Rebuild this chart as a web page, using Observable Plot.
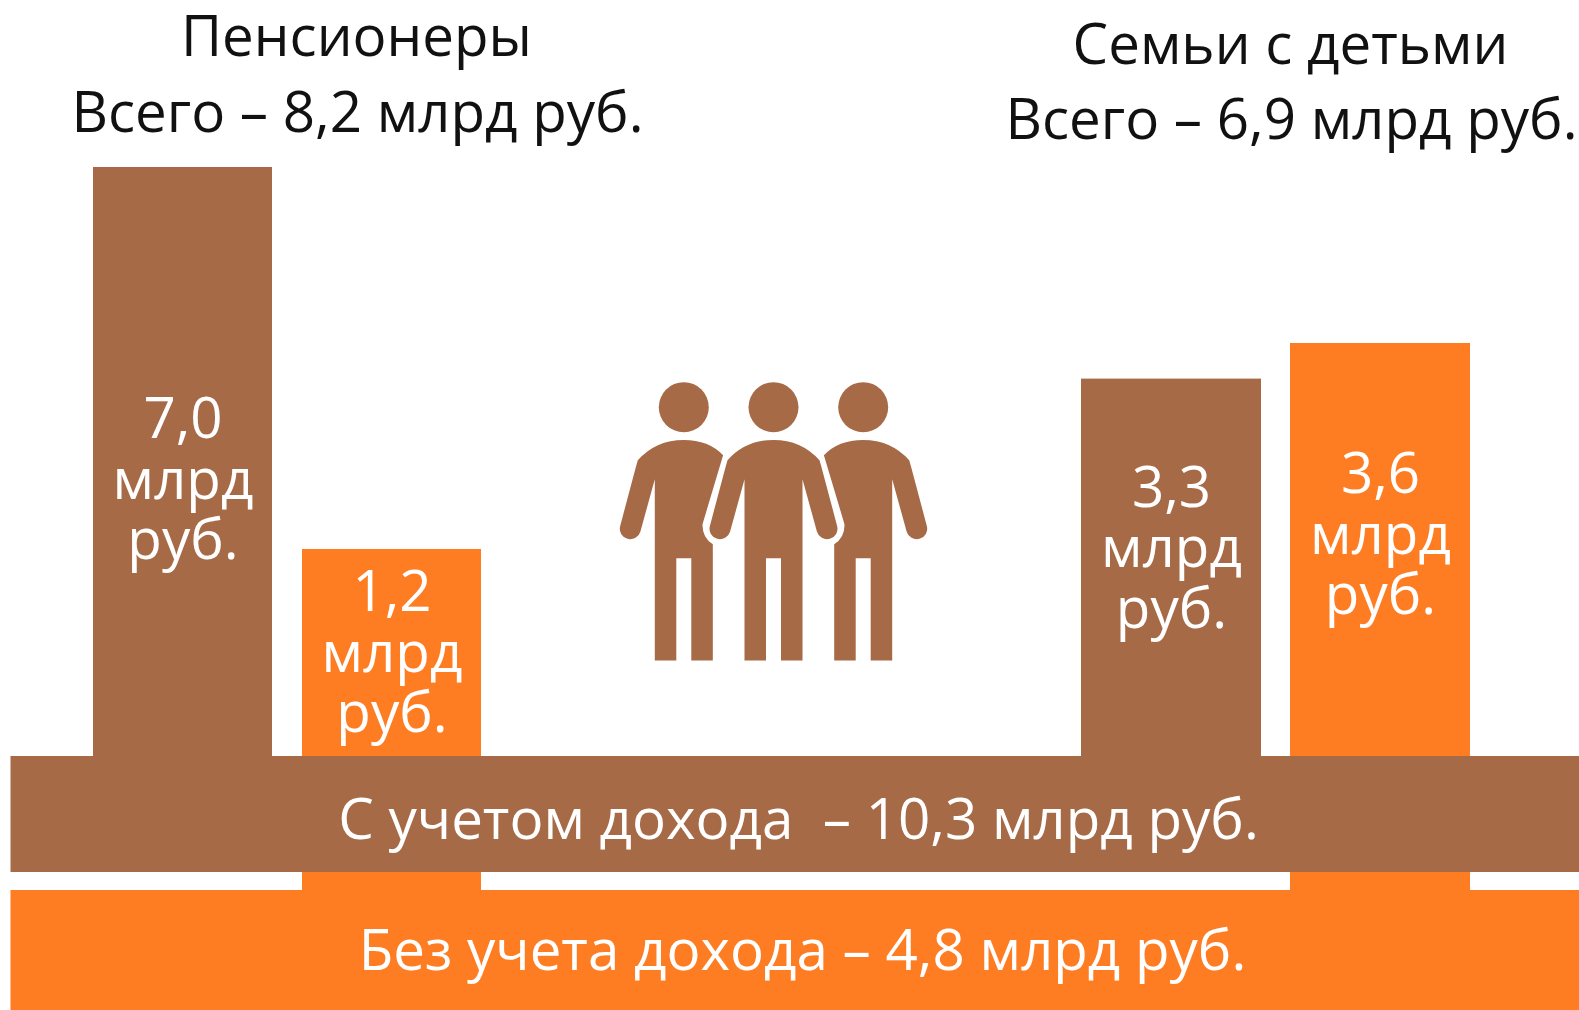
<!DOCTYPE html>
<html><head><meta charset="utf-8">
<style>html,body{margin:0;padding:0;background:#fff}svg{display:block}</style>
<script src="https://cdn.jsdelivr.net/npm/d3@7"></script>
<script src="https://cdn.jsdelivr.net/npm/@observablehq/plot@0.6"></script>
</head><body><div id="chart"></div>
<script>
const groups = ["Пенсионеры", "Семьи с детьми"];
const groupTotals = [8.2, 6.9];
const withIncome = [7.0, 3.3];
const withoutIncome = [1.2, 3.6];
const overallLabels = ["С учетом дохода  –", "Без учета дохода –"];
const overallTotals = [10.3, 4.8];

const BROWN = "#a66a47", ORANGE = "#fe7d23";
const FONT = "'Open Sans'";
const SIZE = 56.5;
const fmt = v => v.toFixed(1).replace(".", ",");

const bars = groups.flatMap((g, i) => [
  {group: g, kind: "income", value: withIncome[i], base: 0, fill: BROWN},
  {group: g, kind: "noIncome", value: withoutIncome[i], base: -2, fill: ORANGE}
]).map((d, i) => ({...d, slot: i * 2}));

// The picture is not to scale: both axes are piecewise, fitted to the drawn bars.
const xFit = d3.scaleLinear()
  .domain([-1, 0, 1, 2, 3, 4, 5, 6, 7, 8])
  .range([10.5, 93, 272, 302, 481, 1081, 1261, 1290, 1470, 1579]);
const yFit = d3.scaleLinear()
  .domain([-3, -2, -1, 0, 1.2, 3.3, 3.6, 7.0])
  .range([1010, 890, 872, 756, 549, 378.6, 343, 167]);
const labelDy = [228, 19, 85, 107];

function personPath(left, right) {
  return {draw(c) {
    c.moveTo(0, 32.7);
    if (left === "arm") {
      c.quadraticCurveTo(-28, 32.7, -46, 53);
      c.lineTo(-48, 60); c.lineTo(-63.6, 118.7);
      c.arc(-53.5, 121.5, 10.5, Math.PI + 0.27, 0.27, true);
      c.lineTo(-29, 72);
    } else {
      c.quadraticCurveTo(-25, 32.7, -39.3, 48);
      c.lineTo(-18.8, 116.7);
      c.quadraticCurveTo(-18, 130, -29, 137);
    }
    c.lineTo(-29, 253.3); c.lineTo(-7.5, 253.3); c.lineTo(-7.5, 151); c.lineTo(7.5, 151);
    c.lineTo(7.5, 253.3); c.lineTo(29, 253.3);
    if (right === "arm") {
      c.lineTo(29, 72); c.lineTo(43.4, 124.3);
      c.arc(53.5, 121.5, 10.5, Math.PI - 0.27, -0.27, true);
      c.lineTo(48, 60); c.lineTo(46, 53);
      c.quadraticCurveTo(28, 32.7, 0, 32.7);
    } else {
      c.lineTo(29, 137);
      c.quadraticCurveTo(18, 130, 18.8, 116.7);
      c.lineTo(39.3, 48);
      c.quadraticCurveTo(25, 32.7, 0, 32.7);
    }
    c.closePath();
  }};
}
const people = [
  {at: 683.3, shape: personPath("arm", "cut")},
  {at: 773, shape: personPath("arm", "arm")},
  {at: 862.7, shape: personPath("cut", "arm")}
];

const frameText = (str, dx, dy, fill) => Plot.text([str], {
  text: d => d, frameAnchor: "top-left", dx, dy, fontSize: SIZE, fill,
  textAnchor: "middle", lineAnchor: "middle", fontFamily: FONT
});

const chart = Plot.plot({
  width: 1579, height: 1010,
  marginTop: 0, marginRight: 0, marginBottom: 0, marginLeft: 0,
  x: {axis: null, domain: [0, 1579], range: [0, 1579], transform: xFit},
  y: {axis: null, domain: [0, 1010], range: [0, 1010], transform: yFit},
  style: {background: "#fff", fontFamily: FONT},
  marks: [
    Plot.rect(bars, {x1: "slot", x2: d => d.slot + 1, y1: "base", y2: "value", fill: "fill"}),
    Plot.rect([overallTotals[0]], {x1: () => -1, x2: () => 8, y1: () => -1, y2: () => 0, fill: BROWN}),
    Plot.rect([overallTotals[1]], {x1: () => -1, x2: () => 8, y1: () => -3, y2: () => -2, fill: ORANGE}),
    ...bars.map((b, i) => Plot.text([b], {
      x: d => d.slot + 0.5, y: "value", dy: labelDy[i],
      text: d => `${fmt(d.value)}\nмлрд\nруб.`,
      fill: "#fff", fontSize: SIZE, lineHeight: 1.07, lineAnchor: "top", textAnchor: "middle", fontFamily: FONT
    })),
    frameText(groups[0], 356, 37, "#111"),
    frameText(`Всего – ${fmt(groupTotals[0])} млрд руб.`, 357, 113, "#111"),
    frameText(groups[1], 1290, 45, "#111"),
    frameText(`Всего – ${fmt(groupTotals[1])} млрд руб.`, 1291, 120, "#111"),
    frameText(`${overallLabels[0]} ${fmt(overallTotals[0])} млрд руб.`, 798, 820, "#fff"),
    frameText(`${overallLabels[1]} ${fmt(overallTotals[1])} млрд руб.`, 802, 951, "#fff"),
    ...people.flatMap(p => [
      Plot.vector([p], {frameAnchor: "top-left", dx: p.at, dy: 406.7, anchor: "start", shape: p.shape, fill: BROWN, stroke: "none"}),
      Plot.dot([p], {frameAnchor: "top-left", dx: p.at, dy: 406.7, r: 25, fill: BROWN, stroke: "none"})
    ])
  ]
});
document.getElementById("chart").append(chart);
</script></body></html>
